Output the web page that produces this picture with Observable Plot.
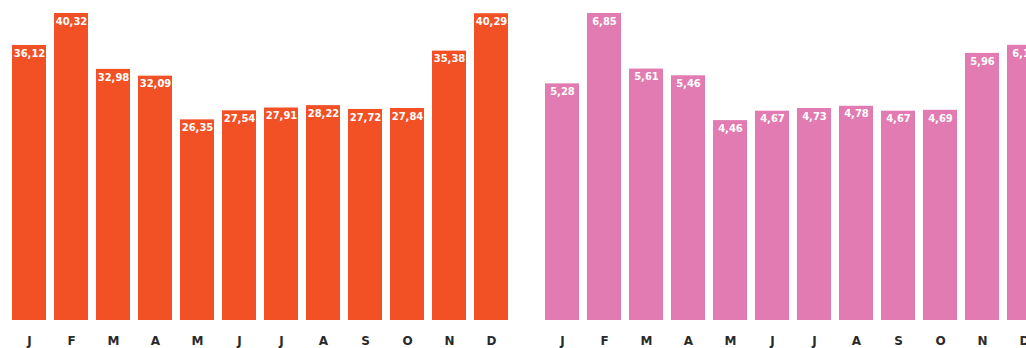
<!DOCTYPE html>
<html>
<head>
<meta charset="utf-8">
<script src="https://cdn.jsdelivr.net/npm/d3@7"></script>
<script src="https://cdn.jsdelivr.net/npm/@observablehq/plot@0.6"></script>
<style>
  html, body { margin: 0; padding: 0; background: #fff; overflow: hidden; width: 1026px; height: 348px; }
  #wrap { position: relative; width: 1026px; height: 348px; overflow: hidden; }
  #left, #right { position: absolute; top: 0; }
  #left { left: 0; width: 520px; }
  #right { left: 520px; width: 540px; }
  svg { max-width: none !important; }
</style>
</head>
<body>
<div id="wrap"><div id="left"></div><div id="right"></div></div>
<script>
const months = ["J","F","M","A","M","J","J","A","S","O","N","D"];
const keys = months.map((m, i) => i);
const seriesA = [36.12, 40.32, 32.98, 32.09, 26.35, 27.54, 27.91, 28.22, 27.72, 27.84, 35.38, 40.29];
const seriesB = [5.28, 6.85, 5.61, 5.46, 4.46, 4.67, 4.73, 4.78, 4.67, 4.69, 5.96, 6.14];
const colorA = "#F15124";
const colorB = "#E17BB1";

const fmt = v => v.toFixed(2).replace(".", ",");

function panel(values, color, width, xRange) {
  const data = keys.map(i => ({k: i, v: values[i]}));
  return Plot.plot({
    width, height: 348,
    marginTop: 0, marginBottom: 28, marginLeft: 0, marginRight: 0,
    style: {background: "transparent", fontFamily: "'DejaVu Sans', sans-serif", maxWidth: "none"},
    x: {type: "band", domain: keys, range: xRange, paddingInner: 8 / 42, paddingOuter: 0, align: 0, label: null},
    y: {domain: [0, d3.max(values)], range: [320, 13], axis: null},
    marks: [
      Plot.barY(data, {x: "k", y: "v", fill: color}),
      Plot.text(data, {x: "k", y: "v", text: d => fmt(d.v), fill: "white",
        fontSize: 10, fontWeight: "bold", lineAnchor: "middle", dy: 8}),
      Plot.axisX({tickSize: 0, tickPadding: 16, tickFormat: i => months[i], label: null,
        fontSize: 12, fontWeight: 600, color: "#2a2a2a"})
    ]
  });
}

document.getElementById("left").appendChild(panel(seriesA, colorA, 520, [12, 508]));
document.getElementById("right").appendChild(panel(seriesB, colorB, 540, [25, 521]));
</script>
</body>
</html>
